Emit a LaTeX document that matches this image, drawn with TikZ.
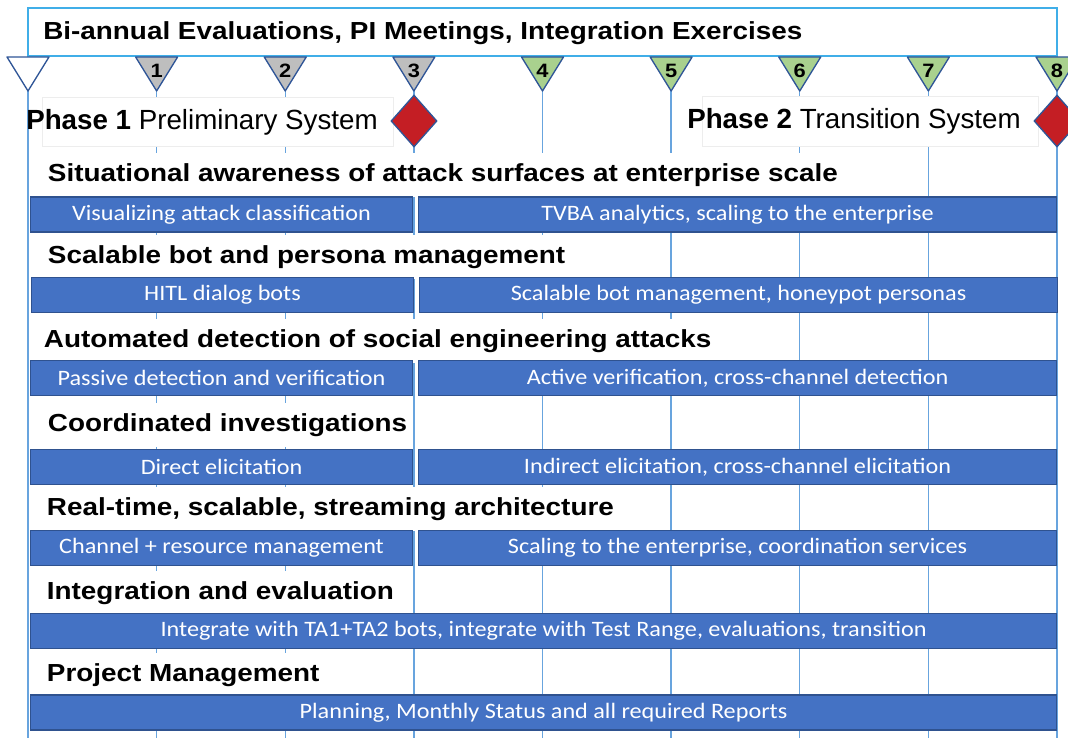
\documentclass[tikz,border=0pt]{standalone}
\usepackage{fontspec}
\setmainfont{Liberation Sans}
\newfontfamily\headfont[FakeStretch=1.13]{Liberation Sans}
\newfontfamily\barfont[FakeStretch=1.1]{Carlito}
\usetikzlibrary{shapes.geometric}
\definecolor{gridblue}{RGB}{104,164,222}
\definecolor{frameblue}{RGB}{64,174,232}
\definecolor{barfill}{RGB}{68,114,196}
\definecolor{barline}{RGB}{47,82,143}
\definecolor{markline}{RGB}{47,85,151}
\definecolor{markgray}{RGB}{190,190,190}
\definecolor{markgreen}{RGB}{169,209,142}
\definecolor{gatered}{RGB}{196,30,36}
\begin{document}
\begin{tikzpicture}[x=0.75pt,y=-0.75pt,
  gridline/.style={draw=gridblue,line width=1.1pt},
  bar/.style={draw=barline,fill=barfill,line width=0.8pt,text=white,
    font=\barfont\fontsize{16.5}{19}\selectfont,minimum height=26.25pt,inner sep=0pt},
  leftbar/.style={bar,anchor=west,minimum width=286.5pt},
  rightbar/.style={bar,anchor=west,minimum width=478.5pt},
  fullbar/.style={bar,anchor=west,minimum width=769.5pt},
  heading/.style={fill=white,anchor=west,font=\headfont\bfseries\fontsize{18.5}{22}\selectfont,
    inner xsep=2pt,inner ysep=0pt,minimum height=33pt},
  phasebox/.style={fill=white,draw=black!7,line width=0.6pt},
  phasetext/.style={anchor=west,font=\fontsize{20.8}{24}\selectfont,inner sep=0pt},
  gate/.style={diamond,draw=markline,fill=gatered,line width=1pt,inner sep=0pt,
    minimum width=34.5pt,minimum height=39pt},
  marknum/.style={font=\headfont\bfseries\fontsize{14.5}{16}\selectfont,inner sep=0pt}]
\useasboundingbox (0,0) rectangle (1068,738);
\clip (0,0) rectangle (1068,738);

% vertical timeline grid
\foreach \i in {1,...,7} {
  \draw[gridline] ({28+\i*128.625},90) -- ({28+\i*128.625},738);
}
\draw[gridline] (28,8) -- (28,738);
\draw[gridline] (1057,8) -- (1057,738);

% header band
\draw[draw=frameblue,line width=1.1pt] (28,8) -- (1057,8) -- (1057,56) -- (28,56) -- cycle;
\node[anchor=west,font=\headfont\bfseries\fontsize{18.5}{22}\selectfont,inner sep=0pt] (title) at (43,33)
  {Bi-annual Evaluations, PI Meetings, Integration Exercises};

% milestone markers
\foreach \i/\lab/\col in {0//white,1/1/markgray,2/2/markgray,3/3/markgray,
    4/4/markgreen,5/5/markgreen,6/6/markgreen,7/7/markgreen,8/8/markgreen} {
  \draw[draw=markline,fill=\col,line width=1pt,line join=round]
    ({28+\i*128.625-21},57) -- ({28+\i*128.625+21},57) -- ({28+\i*128.625},91) -- cycle;
  \node[marknum] (m\i) at ({28+\i*128.625},71) {\lab};
}

% phases
\draw[phasebox] (42,97) rectangle (393,146);
\node[phasetext] (phase1) at (26,122) {\textbf{Phase 1} Preliminary System};
\node[gate] (gate1) at (414,121) {};
\draw[phasebox] (702,96) rectangle (1038,146);
\node[phasetext] (phase2) at (687,121) {\textbf{Phase 2} Transition System};
\node[gate] (gate2) at (1057,121) {};

% work areas
\node[heading] (h1) at (45,175) {Situational awareness of attack surfaces at enterprise scale};
\node[leftbar] (b1a) at (30,214.5) {Visualizing attack classification};
\node[rightbar] (b1b) at (418,214.5) {TVBA analytics, scaling to the enterprise};

\node[heading] (h2) at (45,257) {Scalable bot and persona management};
\node[leftbar] (b2a) at (31,295) {HITL dialog bots};
\node[rightbar] (b2b) at (419,295) {Scalable bot management, honeypot personas};

\node[heading] (h3) at (41,341) {Automated detection of social engineering attacks};
\node[leftbar] (b3a) at (30,378) {Passive detection and verification};
\node[rightbar] (b3b) at (418,378) {Active verification, cross-channel detection};

\node[heading] (h4) at (45,425) {Coordinated investigations};
\node[leftbar] (b4a) at (30,467) {Direct elicitation};
\node[rightbar] (b4b) at (418,467) {Indirect elicitation, cross-channel elicitation};

\node[heading] (h5) at (44,509) {Real-time, scalable, streaming architecture};
\node[leftbar] (b5a) at (30,548) {Channel + resource management};
\node[rightbar] (b5b) at (418,548) {Scaling to the enterprise, coordination services};

\node[heading] (h6) at (44,593) {Integration and evaluation};
\node[fullbar] (b6) at (30,631) {Integrate with TA1+TA2 bots, integrate with Test Range, evaluations, transition};

\node[heading] (h7) at (44,675) {Project Management};
\node[fullbar] (b7) at (30,712.5) {Planning, Monthly Status and all required Reports};
\end{tikzpicture}
\end{document}
